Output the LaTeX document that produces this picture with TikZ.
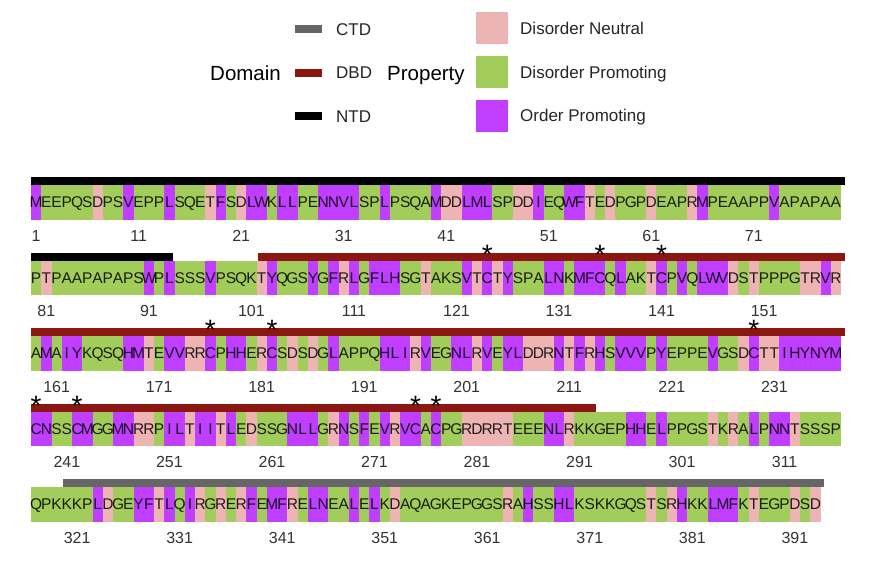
\documentclass[tikz,border=0pt]{standalone}
\usepackage{fontspec}
\setmainfont{Liberation Sans}
\definecolor{dneu}{RGB}{238,180,180}
\definecolor{dpro}{RGB}{162,205,90}
\definecolor{opro}{RGB}{191,62,255}
\definecolor{dbdc}{RGB}{139,22,18}
\definecolor{ctdc}{RGB}{102,102,102}
\colorlet{ntdc}{black}
% residue classes
\colorlet{resA}{dpro}\colorlet{resG}{dpro}\colorlet{resQ}{dpro}\colorlet{resS}{dpro}
\colorlet{resP}{dpro}\colorlet{resE}{dpro}\colorlet{resK}{dpro}
\colorlet{resD}{dneu}\colorlet{resT}{dneu}\colorlet{resR}{dneu}
\colorlet{resM}{opro}\colorlet{resL}{opro}\colorlet{resV}{opro}\colorlet{resW}{opro}
\colorlet{resF}{opro}\colorlet{resI}{opro}\colorlet{resY}{opro}\colorlet{resC}{opro}
\colorlet{resN}{opro}\colorlet{resH}{opro}
\newcount\residx
\newif\ifletterpass
\def\seqall{MEEPQSDPSV EPPLSQETFS DLWKLLPENN VLSPLPSQAM DDLMLSPDDI EQWFTEDPGP DEAPRMPEAA PPVAPAPAAP TPAAPAPAPS WPLSSSVPSQ
KTYQGSYGFR LGFLHSGTAK SVTCTYSPAL NKMFCQLAKT CPVQLWVDST PPPGTRVRAM AIYKQSQHMT EVVRRCPHHE RCSDSDGLAP PQHLIRVEGN
LRVEYLDDRN TFRHSVVVPY EPPEVGSDCT TIHYNYMCNS SCMGGMNRRP ILTIITLEDS SGNLLGRNSF EVRVCACPGR DRRTEEENLR KKGEPHHELP
PGSTKRALPN NTSSSPQPKK KPLDGEYFTL QIRGRERFEM FRELNEALEL KDAQAGKEPG GSRAHSSHLK SKKGQSTSRH KKLMFKTEGP DSD}
\def\cw{10.2532}
\def\drawres#1{%
  \pgfmathtruncatemacro\rrow{div(\residx-1,79)}%
  \pgfmathtruncatemacro\rcol{mod(\residx-1,79)}%
  \pgfmathsetmacro\rx{31+\rcol*\cw}%
  \pgfmathsetmacro\ry{185+\rrow*75.5}%
  \ifletterpass
    \node[seqletter] (r\the\residx) at (\rx+5.1266,\ry+22.8) {#1};%
  \else
    \fill[res#1] (\rx,\ry) rectangle ++(10.6,34.5);%
  \fi}
\def\doseq#1{\ifx#1\relax\else\advance\residx by 1 \drawres{#1}\expandafter\doseq\fi}
\tikzset{
  seqletter/.style={inner sep=0pt, anchor=base, font=\fontsize{15.5}{18}\selectfont, text opacity=0.85},
  poslabel/.style={inner sep=0pt, anchor=base, font=\fontsize{16}{19}\selectfont, text=black!80},
  starmark/.style={inner sep=0pt, anchor=center, font=\fontsize{28}{28}\selectfont},
  legtitle/.style={inner sep=0pt, anchor=base west, font=\fontsize{20.5}{24}\selectfont},
  leglabel/.style={inner sep=0pt, anchor=base west, font=\fontsize{17}{20}\selectfont, text=black!85},
}
\begin{document}
\begin{tikzpicture}[x=1pt,y=-1pt]
\useasboundingbox[fill=white] (0,0) rectangle (893,568);
% ---- legend ----
\node[legtitle] (domt) at (210,80.3) {Domain};
\fill[ctdc] (295,25) rectangle (322,33);
\fill[dbdc] (295,68.7) rectangle (322,76.7);
\fill[ntdc] (295,112) rectangle (322,120);
\node[leglabel] (lctd) at (336,35.1) {CTD};
\node[leglabel] (ldbd) at (336,78.8) {DBD};
\node[leglabel] (lntd) at (336,122.1) {NTD};
\node[legtitle] (prot) at (387,80.3) {Property};
\fill[dneu] (476,12.3) rectangle (508.3,44.3);
\fill[dpro] (476,56) rectangle (508.3,88);
\fill[opro] (476,99.5) rectangle (508.3,131.5);
\node[leglabel] (lneu) at (520,34.4) {Disorder Neutral};
\node[leglabel] (lpro) at (520,78.1) {Disorder Promoting};
\node[leglabel] (lord) at (520,121.6) {Order Promoting};
% ---- residue tiles ----
\residx=0 \letterpassfalse
\expandafter\doseq\seqall\relax
% ---- domain bars ----
\fill[ntdc] (31,177) rectangle (845,185);
\fill[ntdc] (31,252.5) rectangle (173,260.5);
\fill[dbdc] (258,252.5) rectangle (845,260.5);
\fill[dbdc] (31,328) rectangle (845,336);
\fill[dbdc] (31,403.5) rectangle (596,411.5);
\fill[ctdc] (62.5,479) rectangle (824,487);
% ---- letters ----
\residx=0 \letterpasstrue
\expandafter\doseq\seqall\relax
% ---- position labels ----
\foreach \k in {0,...,4}{
  \foreach \j in {0,...,7}{
    \pgfmathtruncatemacro\lab{1+80*\k+10*\j}
    \node[poslabel] (n\lab) at ({31+(\k+10*\j+0.5)*\cw},{185+\k*75.5+56}) {\lab};
  }
}
% ---- cysteine marks ----
\foreach \c in {124,135,141,176,182,229,238,242,275,277}{
  \pgfmathtruncatemacro\srow{div(\c-1,79)}
  \pgfmathtruncatemacro\scol{mod(\c-1,79)}
  \node[starmark] (s\c) at ({31+(\scol+0.5)*\cw},{185+\srow*75.5-6}) {*};
}
\end{tikzpicture}
\end{document}
